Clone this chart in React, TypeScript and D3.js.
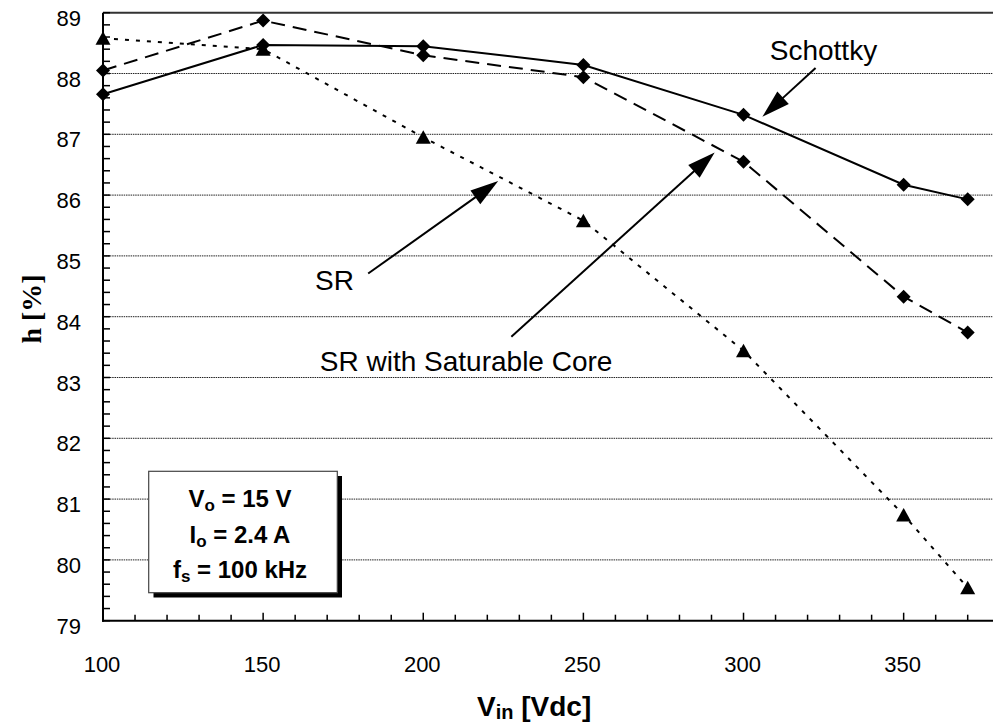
import React from "react";
import * as d3 from "d3";

const vin = [100, 150, 200, 250, 300, 350, 370];
const schottky = [87.66, 88.47, 88.45, 88.14, 87.32, 86.17, 85.93];
const srSaturable = [88.05, 88.87, 88.3, 87.94, 86.55, 84.33, 83.74];
const sr = [88.58, 88.4, 86.95, 85.58, 83.44, 80.74, 79.54];

const xTickLabels = [100, 150, 200, 250, 300, 350];
const yTickLabels = [79, 80, 81, 82, 83, 84, 85, 86, 87, 88, 89];

const annotations = [
  { text: "Schottky", tx: 308.2, ty: 88.23, from: [322.5, 88.09], to: [305.9, 87.29] },
  { text: "SR", tx: 166.2, ty: 84.44, from: [182.8, 84.71], to: [223.4, 86.23] },
  { text: "SR with Saturable Core", tx: 167.7, ty: 83.1, from: [227.5, 83.67], to: [291.0, 86.7] },
];

const W = 993;
const H = 727;
const x = d3.scaleLinear().domain([100, 370]).range([103, 967.7]);
const y = d3.scaleLinear().domain([79, 89]).range([620.7, 12.7]);
const SANS = "'Liberation Sans', Arial, sans-serif";

function diamond(cx: number, cy: number, r = 7) {
  return `M${cx},${cy - r}L${cx + r},${cy}L${cx},${cy + r}L${cx - r},${cy}Z`;
}
function triangle(cx: number, cy: number) {
  return `M${cx},${cy - 7}L${cx + 7.5},${cy + 6.5}L${cx - 7.5},${cy + 6.5}Z`;
}

function Arrow({ from, to }: { from: number[]; to: number[] }) {
  const x1 = x(from[0]), y1 = y(from[1]), x2 = x(to[0]), y2 = y(to[1]);
  const dx = x2 - x1, dy = y2 - y1;
  const len = Math.hypot(dx, dy);
  const ux = dx / len, uy = dy / len;
  const hl = 28, hw = 8.5;
  const bx = x2 - ux * hl, by = y2 - uy * hl;
  const p = `M${x2},${y2}L${bx - uy * hw},${by + ux * hw}L${bx + uy * hw},${by - ux * hw}Z`;
  return (
    <g>
      <line x1={x1} y1={y1} x2={bx + ux * 2} y2={by + uy * 2} stroke="#000" strokeWidth={2} />
      <path d={p} fill="#000" />
    </g>
  );
}

export default function App() {
  const line = d3
    .line<number>()
    .x((_, i) => x(vin[i]))
    .y((d) => y(d));

  const minorX = d3.range(100, 380, 10);
  const minorY = d3.range(79, 89.001, 0.2);
  const grid = d3.range(80, 89, 1);

  return (
    <svg
      width={W}
      height={H}
      style={{ position: "fixed", left: 0, top: 0, background: "#fff" }}
      fontFamily={SANS}
    >
      <rect x={0} y={0} width={W} height={H} fill="#fff" />
      {/* gridlines */}
      {grid.map((g) => (
        <line key={g} x1={x(100)} x2={W} y1={y(g)} y2={y(g)} stroke="#222" strokeWidth={1} strokeDasharray="1.5,0.8" />
      ))}
      {/* top border */}
      <line x1={x(100)} x2={W} y1={y(89)} y2={y(89)} stroke="#333" strokeWidth={2} />

      {/* y ticks */}
      {minorY.map((v, i) => (
        <line key={i} x1={x(100)} x2={x(100) + 7} y1={y(v)} y2={y(v)} stroke="#000" strokeWidth={1.5} />
      ))}
      {/* x ticks */}
      {minorX.map((v) => (
        <line key={v} x1={x(v)} x2={x(v)} y1={y(79)} y2={y(79) - (v % 50 === 0 ? 8 : 6)} stroke="#000" strokeWidth={1.5} />
      ))}
      {/* axes */}
      <line x1={x(100)} x2={x(100)} y1={y(89)} y2={y(79) + 1} stroke="#000" strokeWidth={2} />
      <line x1={x(100) - 1} x2={W} y1={y(79)} y2={y(79)} stroke="#000" strokeWidth={2} />

      {/* y tick labels */}
      {yTickLabels.map((v) => (
        <text key={v} x={81} y={y(v) + 13} textAnchor="end" fontSize={22} fill="#000">
          {v}
        </text>
      ))}
      {/* x tick labels */}
      {xTickLabels.map((v) => (
        <text key={v} x={x(v) - 1} y={672} textAnchor="middle" fontSize={22} fill="#000">
          {v}
        </text>
      ))}

      {/* axis titles */}
      <text x={477} y={716} fontSize={28} fontWeight="bold" fill="#000">
        V<tspan fontSize={20} dy={3}>in</tspan>
        <tspan dy={-3}> [Vdc]</tspan>
      </text>
      <text
        transform="translate(41,309) rotate(-90)"
        textAnchor="middle"
        fontSize={28}
        fontWeight="bold"
        fontFamily="'Liberation Serif', 'Times New Roman', serif"
        fill="#000"
      >
        h [%]
      </text>

      {/* series lines */}
      <path d={line(schottky) || ""} fill="none" stroke="#000" strokeWidth={2} />
      <path d={line(srSaturable) || ""} fill="none" stroke="#000" strokeWidth={2} strokeDasharray="14,8" />
      <path d={line(sr) || ""} fill="none" stroke="#000" strokeWidth={2} strokeDasharray="4,7" />

      {/* markers */}
      {sr.map((v, i) => (
        <path key={"t" + i} d={triangle(x(vin[i]), y(v))} fill="#000" />
      ))}
      {srSaturable.map((v, i) => (
        <path key={"d" + i} d={diamond(x(vin[i]), y(v))} fill="#000" />
      ))}
      {schottky.map((v, i) => (
        <path key={"s" + i} d={diamond(x(vin[i]), y(v))} fill="#000" />
      ))}

      {/* annotations */}
      {annotations.map((a) => (
        <g key={a.text}>
          <text x={x(a.tx)} y={y(a.ty)} fontSize={28} fill="#000">
            {a.text}
          </text>
          <Arrow from={a.from} to={a.to} />
        </g>
      ))}

      {/* conditions box */}
      <rect x={153.5} y={476} width={188.5} height={121.5} fill="#000" />
      <rect x={148.7} y={471.3} width={188.6} height={121.4} fill="#fff" stroke="#444" strokeWidth={1.2} />
      <g fontSize={24} fontWeight="bold" textAnchor="middle" fill="#000">
        <text x={240} y={507.3}>
          V<tspan fontSize={17} dy={4}>o</tspan>
          <tspan dy={-4}> = 15 V</tspan>
        </text>
        <text x={240} y={543.3}>
          I<tspan fontSize={17} dy={4}>o</tspan>
          <tspan dy={-4}> = 2.4 A</tspan>
        </text>
        <text x={240} y={578}>
          f<tspan fontSize={17} dy={4}>s</tspan>
          <tspan dy={-4}> = 100 kHz</tspan>
        </text>
      </g>
    </svg>
  );
}
